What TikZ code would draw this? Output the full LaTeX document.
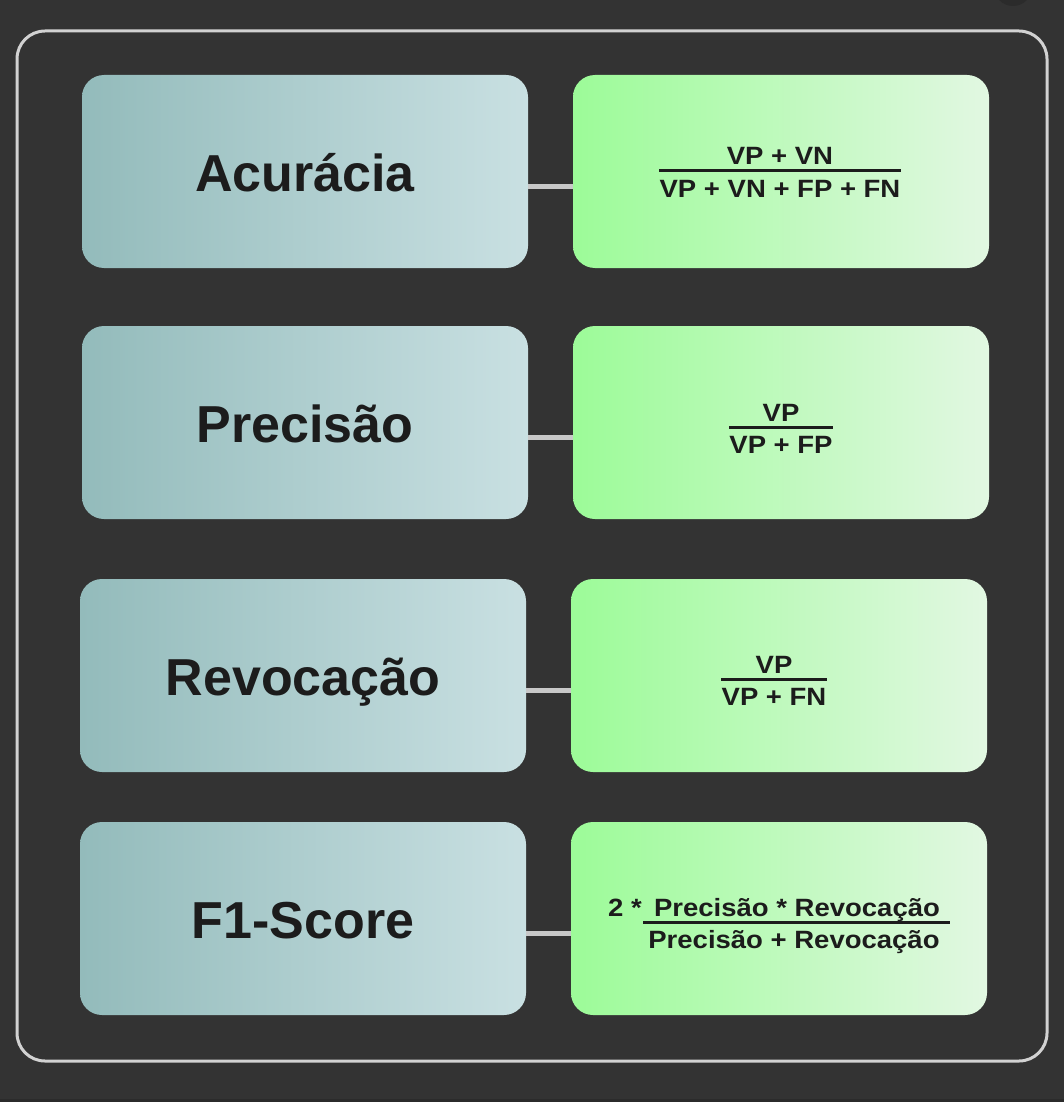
\documentclass[tikz,border=0pt]{standalone}
\usepackage{fontspec}
\setmainfont{Liberation Sans}
\newfontfamily\fml{Liberation Sans}[FakeStretch=1.1]
\definecolor{bgc}{HTML}{333333}
\definecolor{bgdark}{HTML}{2B2B2B}
\definecolor{framec}{HTML}{D2D2D2}
\definecolor{tealL}{HTML}{93BBBB}
\definecolor{tealR}{HTML}{C9E0E2}
\definecolor{grnL}{HTML}{9CFB98}
\definecolor{grnR}{HTML}{E2F8E2}
\definecolor{conc}{HTML}{C8C8C8}
\definecolor{txt}{HTML}{1C1C1C}
\tikzset{
  lbox/.style={rectangle, rounded corners=22pt, left color=tealL, right color=tealR, draw=none, minimum width=446pt, minimum height=193pt, inner sep=0pt},
  rbox/.style={rectangle, rounded corners=22pt, left color=grnL, right color=grnR, draw=none, minimum width=416pt, minimum height=193pt, inner sep=0pt},
  title/.style={anchor=base, inner sep=0pt, text=txt, font=\bfseries\fontsize{52}{52}\selectfont},
  ftext/.style={anchor=base, inner sep=0pt, text=txt, font=\fml\bfseries\fontsize{25}{25}\selectfont},
  conn/.style={draw=conc, line width=5pt},
  fbar/.style={draw=txt, line width=3pt},
}
\begin{document}
\begin{tikzpicture}[x=1pt,y=-1pt]
\useasboundingbox (0,0) rectangle (1064,1102);
\fill[bgc] (0,0) rectangle (1064,1102);
\fill[bgdark] (1013,-13) circle (19);
\fill[bgdark] (0,1099) rectangle (1064,1102);
\draw[framec, line width=3pt, rounded corners=28pt] (17,31) rectangle (1047,1061);

% boxes
\node[lbox] (l1) at (305,171.5) {};
\node[rbox] (r1) at (781,171.5) {};
\node[lbox] (l2) at (305,422.5) {};
\node[rbox] (r2) at (781,422.5) {};
\node[lbox] (l3) at (303,675.5) {};
\node[rbox] (r3) at (779,675.5) {};
\node[lbox] (l4) at (303,918.5) {};
\node[rbox] (r4) at (779,918.5) {};

% connectors
\draw[conn] ([yshift=-15pt]l1.east) -- ([yshift=-15pt]r1.west);
\draw[conn] ([yshift=-15pt]l2.east) -- ([yshift=-15pt]r2.west);
\draw[conn] ([yshift=-15pt]l3.east) -- ([yshift=-15pt]r3.west);
\draw[conn] ([yshift=-15pt]l4.east) -- ([yshift=-15pt]r4.west);

% titles
\node[title] (t1) at (305,191) {Acurácia};
\node[title] (t2) at (305,442) {Precisão};
\node[title] (t3) at (303,695) {Revocação};
\node[title] (t4) at (303,938) {F1-Score};

% formula 1
\coordinate (b1) at (780,171);
\node[ftext] (n1) at (780,165) {VP + VN};
\node[ftext] (d1) at (780,197) {VP + VN + FP + FN};
\draw[fbar] (d1.west |- b1) -- (d1.east |- b1);

% formula 2
\coordinate (b2) at (781,427);
\node[ftext] (n2) at (781,421) {VP};
\node[ftext] (d2) at (781,453) {VP + FP};
\draw[fbar] (d2.west |- b2) -- (d2.east |- b2);

% formula 3
\coordinate (b3) at (774,679);
\node[ftext] (n3) at (774,673) {VP};
\node[ftext] (d3) at (774,705) {VP + FN};
\draw[fbar] (d3.west |- b3) -- (d3.east |- b3);

% formula 4
\coordinate (b4a) at (643,922);
\coordinate (b4b) at (950,922);
\node[ftext, anchor=base west] (k4) at (608,916) {2 *};
\node[ftext] (n4) at (797,916) {Precisão * Revocação};
\node[ftext] (d4) at (794,948) {Precisão + Revocação};
\draw[fbar] (b4a) -- (b4b);
\end{tikzpicture}
\end{document}
